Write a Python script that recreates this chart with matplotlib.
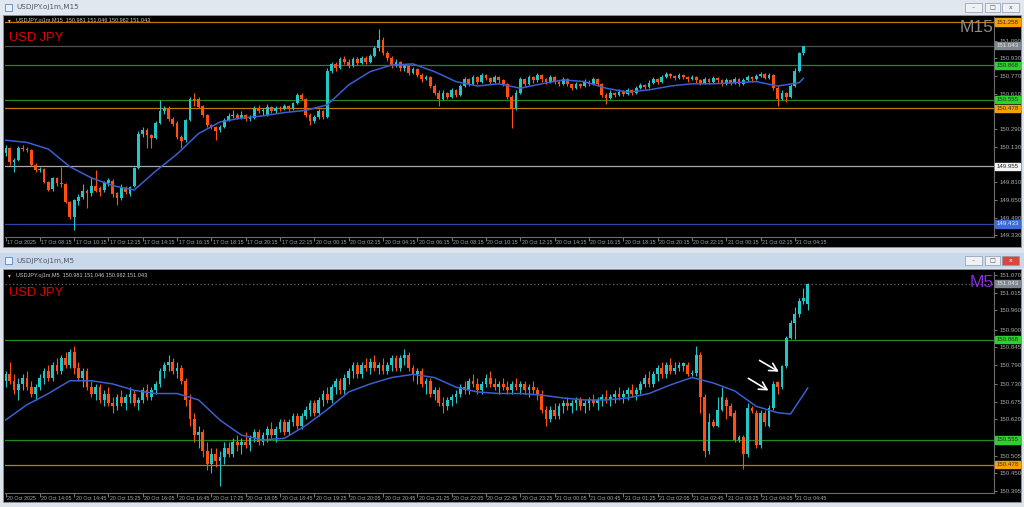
import matplotlib
matplotlib.use("Agg")
import matplotlib.pyplot as plt
import numpy as np
from matplotlib.patches import Rectangle
from matplotlib import transforms

W, H = 1024, 507

# ---------------- M15 window: 17 Oct 06:15 -> 21 Oct 04:45 ----------------
top_open = [150.07,150.12,149.99,150.01,150.12,150.11,150.10,149.97,149.92,149.93,
            149.81,149.75,149.85,149.80,149.79,149.63,149.50,149.64,149.68,149.73,
            149.71,149.78,149.76,149.74,149.80,149.82,149.71,149.67,149.76,149.70,
            149.78,149.94,150.25,150.28,150.24,150.21,150.35,150.45,150.48,150.38,
            150.35,150.22,150.19,150.37,150.56,150.56,150.50,150.42,150.33,150.31,
            150.28,150.31,150.37,150.41,150.42,150.39,150.42,150.38,150.39,150.48,
            150.45,150.42,150.49,150.45,150.48,150.47,150.50,150.47,150.53,150.60,
            150.56,150.42,150.36,150.40,150.45,150.40,150.82,150.88,150.84,150.92,
            150.90,150.86,150.92,150.89,150.93,150.90,150.95,151.02,151.10,150.98,
            150.93,150.86,150.90,150.84,150.86,150.80,150.83,150.78,150.74,150.76,
            150.68,150.62,150.56,150.62,150.58,150.64,150.60,150.68,150.74,150.70,
            150.76,150.72,150.78,150.75,150.72,150.76,150.73,150.70,150.58,150.48,
            150.62,150.74,150.70,150.76,150.73,150.78,150.74,150.72,150.76,150.72,
            150.70,150.74,150.70,150.66,150.70,150.68,150.72,150.70,150.74,150.70,
            150.60,150.57,150.62,150.60,150.63,150.61,150.64,150.62,150.66,150.69,
            150.67,150.71,150.74,150.72,150.76,150.79,150.77,150.75,150.78,150.76,
            150.74,150.76,150.73,150.71,150.74,150.72,150.75,150.73,150.70,150.73,
            150.71,150.74,150.70,150.73,150.76,150.74,150.77,150.79,150.75,150.78,
            150.66,150.56,150.62,150.58,150.68,150.82,150.981]
top_high = [150.15,150.13,150.03,150.14,150.15,150.13,150.11,149.98,149.95,149.94,
            149.82,149.86,149.86,149.95,149.80,149.64,149.66,149.70,149.79,149.75,
            149.86,149.92,149.78,149.82,149.85,149.84,149.72,149.79,149.78,149.78,
            149.95,150.27,150.31,150.30,150.25,150.36,150.55,150.50,150.50,150.40,
            150.36,150.24,150.38,150.58,150.62,150.58,150.51,150.43,150.34,150.32,
            150.33,150.39,150.44,150.46,150.44,150.45,150.43,150.42,150.50,150.51,
            150.48,150.52,150.50,150.50,150.50,150.52,150.51,150.54,150.62,150.62,
            150.57,150.44,150.42,150.47,150.46,150.84,150.90,150.90,150.94,150.95,
            150.92,150.94,150.94,150.95,150.95,150.97,151.04,151.20,151.12,151.00,
            150.95,150.92,150.91,150.88,150.87,150.85,150.84,150.80,150.78,150.77,
            150.70,150.64,150.64,150.63,150.66,150.65,150.70,150.76,150.75,150.78,
            150.77,150.80,150.79,150.76,150.78,150.77,150.74,150.71,150.60,150.64,
            150.76,150.75,150.78,150.77,150.80,150.79,150.75,150.78,150.77,150.73,
            150.76,150.75,150.71,150.72,150.71,150.74,150.73,150.76,150.75,150.71,
            150.62,150.64,150.63,150.65,150.64,150.66,150.65,150.68,150.71,150.70,
            150.73,150.76,150.75,150.78,150.81,150.80,150.78,150.80,150.79,150.77,
            150.78,150.77,150.74,150.76,150.75,150.77,150.76,150.74,150.75,150.74,
            150.76,150.75,150.75,150.78,150.77,150.79,150.81,150.80,150.80,150.79,
            150.68,150.64,150.63,150.70,150.84,150.99,151.046]
top_low = [150.05,149.97,149.90,150.00,150.09,150.08,149.96,149.90,149.90,149.80,
           149.73,149.73,149.78,149.77,149.62,149.48,149.38,149.60,149.66,149.58,
           149.69,149.72,149.69,149.72,149.78,149.68,149.60,149.65,149.70,149.69,
           149.77,149.93,150.22,150.12,150.12,150.20,150.34,150.43,150.36,150.32,
           150.20,150.12,150.17,150.36,150.50,150.48,150.40,150.31,150.29,150.19,
           150.26,150.30,150.36,150.39,150.38,150.38,150.36,150.36,150.38,150.44,
           150.42,150.41,150.44,150.44,150.45,150.46,150.45,150.46,150.52,150.55,
           150.40,150.33,150.35,150.38,150.38,150.39,150.80,150.82,150.83,150.88,
           150.84,150.85,150.87,150.88,150.88,150.89,150.94,151.00,150.96,150.91,
           150.84,150.85,150.82,150.82,150.78,150.79,150.76,150.72,150.73,150.66,
           150.60,150.50,150.55,150.56,150.57,150.58,150.59,150.67,150.68,150.69,
           150.70,150.71,150.73,150.70,150.71,150.71,150.68,150.56,150.30,150.46,
           150.61,150.68,150.69,150.71,150.72,150.72,150.70,150.71,150.70,150.68,
           150.69,150.68,150.64,150.65,150.66,150.67,150.68,150.69,150.68,150.58,
           150.52,150.56,150.58,150.59,150.59,150.60,150.60,150.61,150.65,150.65,
           150.66,150.70,150.70,150.71,150.75,150.75,150.73,150.74,150.74,150.72,
           150.73,150.71,150.69,150.70,150.70,150.71,150.71,150.68,150.69,150.69,
           150.70,150.68,150.69,150.72,150.72,150.73,150.76,150.74,150.74,150.64,
           150.50,150.55,150.54,150.57,150.67,150.81,150.962]
top_close = [150.12,149.99,150.01,150.12,150.11,150.10,149.97,149.92,149.93,149.81,
             149.74,149.85,149.80,149.79,149.63,149.50,149.65,149.68,149.73,149.71,
             149.78,149.73,149.72,149.80,149.83,149.70,149.67,149.76,149.72,149.77,
             149.94,150.25,150.28,150.24,150.21,150.35,150.45,150.47,150.38,150.34,
             150.22,150.18,150.37,150.56,150.55,150.49,150.42,150.33,150.31,150.27,
             150.31,150.37,150.41,150.42,150.39,150.42,150.38,150.40,150.48,150.45,
             150.46,150.49,150.45,150.48,150.47,150.50,150.47,150.53,150.60,150.56,
             150.42,150.36,150.40,150.45,150.40,150.82,150.88,150.84,150.92,150.90,
             150.86,150.92,150.89,150.93,150.90,150.95,151.02,151.10,150.98,150.93,
             150.86,150.90,150.84,150.86,150.80,150.83,150.78,150.74,150.76,150.68,
             150.62,150.56,150.62,150.58,150.64,150.60,150.68,150.74,150.70,150.76,
             150.72,150.78,150.75,150.72,150.76,150.73,150.70,150.58,150.48,150.62,
             150.74,150.70,150.76,150.73,150.78,150.74,150.72,150.76,150.72,150.70,
             150.74,150.70,150.66,150.70,150.68,150.72,150.70,150.74,150.70,150.60,
             150.57,150.62,150.60,150.63,150.61,150.64,150.62,150.66,150.69,150.67,
             150.71,150.74,150.72,150.76,150.79,150.77,150.75,150.78,150.76,150.74,
             150.76,150.73,150.71,150.74,150.72,150.75,150.73,150.70,150.73,150.71,
             150.74,150.70,150.73,150.76,150.74,150.77,150.79,150.75,150.78,150.66,
             150.56,150.62,150.58,150.68,150.82,150.98,151.043]
top_ma_bar = [0, 5, 10, 15, 20, 25, 30, 35, 40, 45, 50, 55, 60, 65, 70, 75, 80, 85, 90,
              95, 100, 105, 110, 115, 120, 125, 130, 135, 140, 145, 150, 155, 160, 165,
              170, 175, 180, 185, 186]
top_ma = [150.19, 150.17, 150.11, 149.95, 149.85, 149.78, 149.74, 149.91, 150.065,
          150.25, 150.355, 150.39, 150.41, 150.44, 150.46, 150.51, 150.69, 150.81,
          150.87, 150.88, 150.81, 150.72, 150.68, 150.70, 150.66, 150.70, 150.735,
          150.72, 150.66, 150.625, 150.645, 150.68, 150.70, 150.70, 150.71, 150.72,
          150.68, 150.71, 150.75]
top_dates = ["17 Oct 2025", "17 Oct 08:15", "17 Oct 10:15", "17 Oct 12:15", "17 Oct 14:15",
             "17 Oct 16:15", "17 Oct 18:15", "17 Oct 20:15", "17 Oct 22:15", "20 Oct 00:15",
             "20 Oct 02:15", "20 Oct 04:15", "20 Oct 06:15", "20 Oct 08:15", "20 Oct 10:15",
             "20 Oct 12:15", "20 Oct 14:15", "20 Oct 16:15", "20 Oct 18:15", "20 Oct 20:15",
             "20 Oct 22:15", "21 Oct 00:15", "21 Oct 02:15", "21 Oct 04:15"]
top_ticks = [151.090, 150.930, 150.770, 150.610, 150.450, 150.290, 150.130,
             149.810, 149.650, 149.490, 149.330]
top_levels = [151.258, 151.043, 150.868, 150.555, 150.478, 149.955, 149.433]
top_kinds = ["orange", "price", "green", "green", "orange", "white", "blue"]

# ---------------- M5 window: 20 Oct 13:25 -> 21 Oct 05:00 ----------------
bot_open = [150.74,150.76,150.74,150.71,150.73,150.75,150.72,150.70,150.72,150.75,
            150.77,150.75,150.79,150.77,150.81,150.79,150.83,150.78,150.75,150.77,
            150.72,150.70,150.72,150.68,150.70,150.67,150.66,150.69,150.67,150.69,
            150.70,150.67,150.68,150.71,150.69,150.71,150.73,150.77,150.79,150.80,
            150.77,150.78,150.74,150.68,150.62,150.57,150.58,150.52,150.48,150.51,
            150.49,150.50,150.53,150.51,150.55,150.54,150.55,150.54,150.56,150.58,
            150.55,150.57,150.59,150.57,150.59,150.61,150.58,150.61,150.63,150.60,
            150.63,150.65,150.67,150.64,150.68,150.70,150.68,150.72,150.74,150.71,
            150.75,150.77,150.79,150.76,150.79,150.78,150.80,150.78,150.79,150.77,
            150.79,150.81,150.78,150.81,150.82,150.78,150.76,150.77,150.73,150.74,
            150.70,150.71,150.67,150.66,150.68,150.69,150.70,150.72,150.71,150.74,
            150.73,150.71,150.73,150.75,150.73,150.72,150.73,150.72,150.71,150.73,
            150.72,150.73,150.71,150.72,150.71,150.70,150.65,150.62,150.65,150.63,
            150.66,150.67,150.66,150.67,150.68,150.66,150.67,150.68,150.67,150.68,
            150.69,150.68,150.69,150.70,150.69,150.70,150.71,150.70,150.71,150.73,
            150.75,150.73,150.76,150.78,150.76,150.79,150.77,150.78,150.785,150.79,
            150.76,150.765,150.82,150.69,150.52,150.61,150.60,150.65,150.68,150.66,
            150.64,150.555,150.565,150.51,150.655,150.64,150.54,150.64,150.60,150.655,
            150.735,150.72,150.787,150.875,150.92,150.95,150.99,150.981]
bot_high = [150.77,150.80,150.76,150.75,150.76,150.77,150.74,150.73,150.76,150.78,
            150.79,150.80,150.81,150.82,150.83,150.84,150.85,150.80,150.78,150.78,
            150.74,150.73,150.73,150.71,150.72,150.69,150.70,150.71,150.70,150.72,
            150.71,150.69,150.72,150.73,150.72,150.74,150.78,150.80,150.82,150.81,
            150.80,150.79,150.75,150.70,150.64,150.60,150.59,150.55,150.53,150.53,
            150.52,150.55,150.55,150.56,150.57,150.56,150.58,150.57,150.59,150.59,
            150.58,150.60,150.61,150.60,150.62,150.62,150.62,150.64,150.64,150.64,
            150.66,150.68,150.68,150.69,150.71,150.72,150.73,150.75,150.75,150.76,
            150.78,150.80,150.80,150.80,150.81,150.81,150.82,150.80,150.81,150.80,
            150.82,150.82,150.82,150.84,150.83,150.79,150.78,150.78,150.75,150.75,
            150.72,150.72,150.69,150.69,150.70,150.71,150.73,150.74,150.75,150.76,
            150.75,150.74,150.76,150.77,150.75,150.74,150.75,150.74,150.74,150.75,
            150.74,150.74,150.73,150.74,150.72,150.71,150.66,150.66,150.67,150.67,
            150.68,150.69,150.68,150.69,150.69,150.68,150.69,150.70,150.69,150.70,
            150.71,150.70,150.71,150.72,150.71,150.72,150.73,150.72,150.74,150.76,
            150.77,150.77,150.79,150.80,150.80,150.81,150.80,150.80,150.80,150.80,
            150.775,150.85,150.83,150.70,150.64,150.62,150.69,150.72,150.69,150.67,
            150.65,150.57,150.57,150.67,150.66,150.65,150.65,150.65,150.665,150.74,
            150.74,150.79,150.88,150.93,150.97,151.00,151.03,151.046]
bot_low = [150.72,150.73,150.70,150.68,150.71,150.71,150.69,150.68,150.71,150.73,
           150.74,150.74,150.76,150.76,150.78,150.78,150.76,150.74,150.72,150.71,
           150.69,150.68,150.67,150.66,150.66,150.64,150.65,150.66,150.65,150.67,
           150.66,150.65,150.67,150.68,150.68,150.70,150.72,150.75,150.77,150.76,
           150.75,150.73,150.66,150.60,150.55,150.53,150.50,150.46,150.45,150.47,
           150.41,150.48,150.50,150.50,150.52,150.51,150.53,150.52,150.55,150.54,
           150.54,150.55,150.56,150.55,150.58,150.57,150.57,150.60,150.59,150.59,
           150.62,150.63,150.63,150.63,150.66,150.67,150.67,150.70,150.70,150.70,
           150.73,150.75,150.75,150.75,150.77,150.76,150.77,150.76,150.76,150.76,
           150.77,150.77,150.77,150.79,150.77,150.74,150.73,150.72,150.70,150.69,
           150.68,150.66,150.64,150.65,150.66,150.67,150.69,150.70,150.70,150.72,
           150.70,150.70,150.72,150.72,150.71,150.70,150.71,150.70,150.70,150.71,
           150.70,150.70,150.69,150.70,150.68,150.64,150.60,150.61,150.62,150.62,
           150.64,150.65,150.64,150.65,150.65,150.64,150.65,150.66,150.65,150.66,
           150.67,150.66,150.67,150.68,150.67,150.68,150.69,150.68,150.70,150.72,
           150.72,150.72,150.74,150.75,150.75,150.76,150.76,150.77,150.77,150.755,
           150.755,150.755,150.64,150.50,150.51,150.595,150.595,150.645,150.62,150.63,
           150.55,150.55,150.465,150.50,150.64,150.53,150.53,150.60,150.595,150.65,
           150.70,150.715,150.78,150.87,150.87,150.94,150.98,150.962]
bot_close = [150.76,150.74,150.71,150.73,150.75,150.72,150.70,150.72,150.75,150.77,
             150.75,150.79,150.77,150.81,150.79,150.83,150.78,150.75,150.77,150.72,
             150.70,150.72,150.68,150.70,150.67,150.66,150.69,150.67,150.69,150.70,
             150.67,150.68,150.71,150.69,150.71,150.73,150.77,150.79,150.80,150.77,
             150.78,150.74,150.68,150.62,150.57,150.58,150.52,150.48,150.51,150.49,
             150.50,150.53,150.51,150.55,150.54,150.55,150.54,150.56,150.58,150.55,
             150.57,150.59,150.57,150.59,150.61,150.58,150.61,150.63,150.60,150.63,
             150.65,150.67,150.64,150.68,150.70,150.68,150.72,150.74,150.71,150.75,
             150.77,150.79,150.76,150.79,150.78,150.80,150.78,150.79,150.77,150.79,
             150.81,150.78,150.81,150.82,150.78,150.76,150.77,150.73,150.74,150.70,
             150.71,150.67,150.66,150.68,150.69,150.70,150.72,150.71,150.74,150.73,
             150.71,150.73,150.75,150.73,150.72,150.73,150.72,150.71,150.73,150.72,
             150.73,150.71,150.72,150.71,150.70,150.65,150.62,150.65,150.63,150.66,
             150.67,150.66,150.67,150.68,150.66,150.67,150.68,150.67,150.68,150.69,
             150.68,150.69,150.70,150.69,150.70,150.71,150.70,150.71,150.73,150.75,
             150.73,150.76,150.78,150.76,150.79,150.77,150.78,150.79,150.795,150.76,
             150.765,150.82,150.69,150.52,150.61,150.60,150.65,150.69,150.66,150.63,
             150.555,150.565,150.51,150.655,150.645,150.54,150.64,150.61,150.655,150.73,
             150.72,150.787,150.875,150.92,150.95,150.99,151.00,151.043]
bot_ma_bar = [0, 5, 10, 15, 20, 25, 30, 35, 40, 45, 50, 55, 60, 65, 70, 75, 80, 85, 90,
              95, 100, 105, 110, 115, 120, 125, 130, 135, 140, 145, 150, 155, 160, 165,
              170, 175, 180, 183, 187]
bot_ma = [150.617, 150.665, 150.70, 150.74, 150.74, 150.73, 150.71, 150.70, 150.70,
          150.68, 150.617, 150.57, 150.555, 150.56, 150.60, 150.65, 150.705, 150.73,
          150.75, 150.76, 150.75, 150.72, 150.705, 150.70, 150.70, 150.695, 150.686,
          150.68, 150.68, 150.686, 150.70, 150.727, 150.75, 150.733, 150.708, 150.66,
          150.64, 150.636, 150.717]
bot_dates = ["20 Oct 2025", "20 Oct 14:05", "20 Oct 14:45", "20 Oct 15:25", "20 Oct 16:05",
             "20 Oct 16:45", "20 Oct 17:25", "20 Oct 18:05", "20 Oct 18:45", "20 Oct 19:25",
             "20 Oct 20:05", "20 Oct 20:45", "20 Oct 21:25", "20 Oct 22:05", "20 Oct 22:45",
             "20 Oct 23:25", "21 Oct 00:05", "21 Oct 00:45", "21 Oct 01:25", "21 Oct 02:05",
             "21 Oct 02:45", "21 Oct 03:25", "21 Oct 04:05", "21 Oct 04:45"]
bot_ticks = [151.070, 151.015, 150.960, 150.900, 150.845, 150.790, 150.730, 150.675,
             150.620, 150.505, 150.450, 150.395]
bot_levels = [151.043, 150.868, 150.555, 150.478]
bot_kinds = ["price_dot", "green", "green", "orange"]
# white arrows drawn on the M5 chart (bar, price)
arrow_from = [(175.2, 150.808), (172.6, 150.752)]
arrow_to = [(180.8, 150.764), (178.4, 150.705)]

UP, DOWN, MA_COL = "#22c6c6", "#ff5010", "#3a5fd0"
LEVEL_STYLE = {
    "orange": dict(line="#c47a00", ls="-", box="#f5a100", txt="#303030"),
    "green": dict(line="#1f8a1f", ls="-", box="#2fcf2f", txt="#203020"),
    "white": dict(line="#a8a8a8", ls="-", box="#f4f4f4", txt="#202020"),
    "blue": dict(line="#2a48a8", ls="-", box="#3c6ad8", txt="#e0e8ff"),
    "price": dict(line="#505050", ls="-", box="#7e8690", txt="#e8e8e8"),
    "price_dot": dict(line="#6a6a6a", ls=(0, (1, 2)), box="#7e8690", txt="#e8e8e8"),
}
DATE_STEP = 8
SMALL = "Liberation Sans"


def rect(x0, y0, x1, y1):
    return [x0 / W, 1 - y1 / H, (x1 - x0) / W, (y1 - y0) / H]


def fig_box(fig, x0, y0, x1, y1, fc, ec="none", lw=0.8, z=-10):
    fig.add_artist(Rectangle((x0 / W, 1 - y1 / H), (x1 - x0) / W, (y1 - y0) / H,
                             transform=fig.transFigure, fc=fc, ec=ec, lw=lw, zorder=z))


def window(fig, y0, title, active):
    bar = "#c9d8ea" if active else "#e1e7ee"
    fig_box(fig, 0, y0, W, y0 + 15, bar)
    fig_box(fig, 5, y0 + 4, 12, y0 + 11, "#e8f0fa", ec="#5a86c0", lw=0.6, z=1)
    fig.text(16 / W, 1 - (y0 + 7.5) / H, title, fontsize=5.2, color="#4f5864",
             va="center", ha="left", family="DejaVu Sans")
    for k, (bx0, bx1) in enumerate([(965, 982), (985, 1000), (1002, 1019)]):
        fc = "#d8473c" if (active and k == 2) else "#eef2f6"
        fig_box(fig, bx0, y0 + 3, bx1, y0 + 12, fc, ec="#8d99a8", lw=0.5, z=1)
        glyph = ["\u2013", "\u25a1", "x"][k]
        fig.text((bx0 + bx1) / 2 / W, 1 - (y0 + 7.5) / H, glyph, fontsize=4.5,
                 color="white" if fc != "#eef2f6" else "#555555", ha="center", va="center")


def candles(ax, o, h, l, c, min_body):
    o, h, l, c = (np.asarray(v, float) for v in (o, h, l, c))
    x = np.arange(len(o))
    col = np.where(c >= o, UP, DOWN)
    ax.vlines(x, l, h, colors=col, lw=0.8, zorder=3)
    body = np.maximum(np.abs(c - o), min_body)
    ax.bar(x, body, bottom=np.minimum(o, c), width=0.64, color=col, linewidth=0, zorder=4)


def panel(fig, box, ylim, o, h, l, c, ma_bar, ma, dates, ticks, levels, kinds,
          min_body, info, label, label_col):
    ax = fig.add_axes(rect(*box), facecolor="black")
    ax.set_xlim((box[0] - 5.5) / 4.29, (box[2] - 5.5) / 4.29)
    ax.set_ylim(*ylim)
    for lv, kind in zip(levels, kinds):
        st = LEVEL_STYLE[kind]
        ax.axhline(lv, color=st["line"], ls=st["ls"], lw=0.9, zorder=2)
    candles(ax, o, h, l, c, min_body)
    ax.plot(ma_bar, ma, color=MA_COL, lw=1.1, zorder=5)

    ax.yaxis.tick_right()
    ax.set_yticks(ticks)
    ax.set_yticklabels([f"{t:.3f}" for t in ticks], family=SMALL)
    ax.tick_params(axis="y", colors="#8e8e8e", labelsize=4.4, length=2, width=0.6,
                   pad=2, labelcolor="#a8a8a8")
    pos = [0] + [DATE_STEP * k for k in range(1, len(dates))]
    ax.set_xticks(pos)
    ax.set_xticklabels(dates, family=SMALL)
    ax.tick_params(axis="x", colors="#8e8e8e", labelsize=3.8, length=3, width=0.6,
                   pad=-1.2, labelcolor="#a8a8a8")
    shift = transforms.ScaledTranslation(1.5 / 100, 0, fig.dpi_scale_trans)
    for t in ax.get_xticklabels():
        t.set_ha("left")
        t.set_transform(t.get_transform() + shift)
    for s in ("top", "left"):
        ax.spines[s].set_visible(False)
    for s in ("right", "bottom"):
        ax.spines[s].set_color("#6c6c6c")
        ax.spines[s].set_linewidth(0.8)

    for lv, kind in zip(levels, kinds):
        st = LEVEL_STYLE[kind]
        ax.annotate(f"{lv:.3f}", xy=(1, lv), xycoords=("axes fraction", "data"),
                    xytext=(1.8, 0), textcoords="offset points", va="center", ha="left",
                    fontsize=4.4, color=st["txt"], zorder=10, annotation_clip=False,
                    family=SMALL,
                    bbox=dict(boxstyle="square,pad=0.18", fc=st["box"], ec=st["box"]))

    ax.text(0.003, 0.995, "\u25be", transform=ax.transAxes, fontsize=4, color="#c8c8c8",
            va="top", ha="left")
    ax.text(0.011, 0.995, info, transform=ax.transAxes, fontsize=4.0, color="#c8c8c8",
            va="top", ha="left", family=SMALL)
    ax.text(0.004, 0.93, "USD JPY", transform=ax.transAxes, fontsize=9.3, color="#e00000",
            va="top", ha="left", family="Liberation Sans")
    ax.text(0.9995, 0.985, label, transform=ax.transAxes, fontsize=12.5, color=label_col,
            va="top", ha="right", family="Liberation Sans")
    return ax


fig = plt.figure(figsize=(W / 100, H / 100), dpi=100, facecolor="#dde3ea")

window(fig, 0, "USDJPY.oj1m,M15", False)
fig_box(fig, 3, 15, 1021, 247, "black", ec="#8b96a3", lw=0.6)
panel(fig, (5, 17, 994, 237), (149.315, 151.304), top_open, top_high, top_low, top_close,
      top_ma_bar, top_ma, top_dates, top_ticks, top_levels, top_kinds, 0.009,
      "USDJPY.oj1m,M15  150.981 151.046 150.962 151.043", "M15", "#8a8a8a")

window(fig, 253, "USDJPY.oj1m,M5", True)
fig_box(fig, 3, 269, 1021, 502, "black", ec="#8b96a3", lw=0.6)
ax2 = panel(fig, (5, 272, 994, 493), (150.389, 151.080), bot_open, bot_high, bot_low,
            bot_close, bot_ma_bar, bot_ma, bot_dates, bot_ticks, bot_levels, bot_kinds,
            0.0031, "USDJPY.oj1m,M5  150.981 151.046 150.962 151.043", "M5", "#8a2be2")
for a, b in zip(arrow_from, arrow_to):
    ax2.annotate("", xy=b, xytext=a,
                 arrowprops=dict(arrowstyle="->,head_length=0.55,head_width=0.3",
                                 color="white", lw=1.2), zorder=8)

fig.savefig("out.png", dpi=100, facecolor=fig.get_facecolor())
